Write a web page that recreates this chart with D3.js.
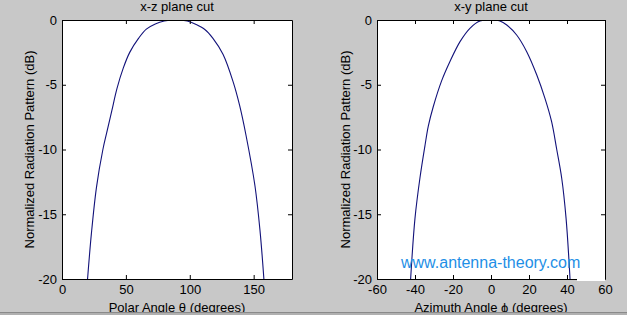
<!DOCTYPE html>
<html>
<head>
<meta charset="utf-8">
<script src="https://cdn.jsdelivr.net/npm/d3@7"></script>
<style>
  body { margin: 0; background: #c8c8c8; }
  text { font-family: "Liberation Sans", Arial, sans-serif; fill: #000; }
</style>
</head>
<body>
<div id="chart"></div>
<script>
// x-z cut: polar angle theta (deg) vs normalized pattern (dB)
const XZ_THETA = [20, 23, 27, 32, 35, 39, 43, 48, 53, 60, 66, 73, 80, 89, 98, 105, 112, 118, 126, 134, 139, 144, 151, 155, 158];
const XZ_DB    = [-20, -16.5, -12.9, -10.0, -8.7, -7.0, -5.3, -3.7, -2.5, -1.4, -0.7, -0.3, -0.08, 0, -0.08, -0.35, -0.75, -1.4, -2.65, -4.8, -6.6, -8.9, -12.8, -16.3, -20];

// x-y cut: azimuth angle phi (deg) vs normalized pattern (dB)
const XY_PHI = [-42.3, -40, -37.4, -34.7, -33, -30.4, -26, -21.6, -16.3, -11.1, -5.8, -0.5, 4.7, 8.3, 13.5, 18.8, 24.1, 28.4, 31.9, 34.6, 37.2, 39.5, 41.6];
const XY_DB  = [-20, -15.3, -12.2, -9.65, -8.2, -6.7, -4.7, -3.2, -1.67, -0.64, -0.08, 0, -0.08, -0.39, -1.16, -2.45, -4.25, -6.05, -7.85, -10.0, -12.2, -15.3, -20];

const XZ_XTICKS = [0, 50, 100, 150];
const XY_XTICKS = [-60, -40, -20, 0, 20, 40, 60];
const Y_TICKS = [0, -5, -10, -15, -20];

const TITLES = ["x-z plane cut", "x-y plane cut"];
const XLABELS = ["Polar Angle \u03B8 (degrees)", "Azimuth Angle \u03D5 (degrees)"];
const YLABEL = "Normalized Radiation Pattern (dB)";
const WATERMARK = "www.antenna-theory.com";

var width = 627,
    height = 315;

var svg = d3.select("#chart").append("svg")
  .attr("width", width)
  .attr("height", height);

svg.append("rect")
  .attr("width", width)
  .attr("height", height)
  .attr("fill", "#c8c8c8");

var panels = [
  {left: 62, right: 292, xDomain: [0, 180], xTicks: XZ_XTICKS, xs: XZ_THETA, ys: XZ_DB, title: TITLES[0], xlabel: XLABELS[0], ylabelX: 34},
  {left: 377, right: 605, xDomain: [-60, 60], xTicks: XY_XTICKS, xs: XY_PHI, ys: XY_DB, title: TITLES[1], xlabel: XLABELS[1], ylabelX: 350}
];
var plotTop = 20, plotBottom = 279, tickLen = 4;
var fmt = d => String(d); // plain hyphen minus like the reference

panels.forEach(function(p, k) {
  var x = d3.scaleLinear().domain(p.xDomain).range([p.left, p.right]);
  var y = d3.scaleLinear().domain([-20, 0]).range([plotBottom, plotTop]);
  var g = svg.append("g");

  // white plot area
  g.append("rect")
    .attr("x", p.left).attr("y", plotTop)
    .attr("width", p.right - p.left).attr("height", plotBottom - plotTop)
    .attr("fill", "#fff");

  g.append("clipPath").attr("id", "clip" + k)
    .append("rect")
    .attr("x", p.left).attr("y", plotTop)
    .attr("width", p.right - p.left).attr("height", plotBottom - plotTop);

  // curve
  var pts = p.xs.map((d, i) => [d, p.ys[i]]);
  g.append("path")
    .datum(pts)
    .attr("clip-path", "url(#clip" + k + ")")
    .attr("fill", "none")
    .attr("stroke", "#12127a")
    .attr("stroke-width", 1.1)
    .attr("d", d3.line()
      .x(d => x(d[0]))
      .y(d => y(d[1]))
      .curve(d3.curveCatmullRom.alpha(0.5)));

  // axes: ticks inside on all four sides, labels on left and bottom
  var xb = g.append("g").attr("transform", "translate(0," + plotBottom + ")")
    .call(d3.axisBottom(x).tickValues(p.xTicks).tickFormat(fmt).tickSizeInner(-tickLen).tickSizeOuter(0));
  var xt = g.append("g").attr("transform", "translate(0," + plotTop + ")")
    .call(d3.axisTop(x).tickValues(p.xTicks).tickSizeInner(-tickLen).tickSizeOuter(0).tickFormat(""));
  var yl = g.append("g").attr("transform", "translate(" + p.left + ",0)")
    .call(d3.axisLeft(y).tickValues(Y_TICKS).tickFormat(fmt).tickSizeInner(-tickLen).tickSizeOuter(0));
  var yr = g.append("g").attr("transform", "translate(" + p.right + ",0)")
    .call(d3.axisRight(y).tickValues(Y_TICKS).tickSizeInner(-tickLen).tickSizeOuter(0).tickFormat(""));

  [xb, xt, yl, yr].forEach(function(a) {
    a.select(".domain").attr("stroke", "#000");
    a.selectAll(".tick line").attr("stroke", "#000");
    a.selectAll("text")
      .attr("font-family", "Liberation Sans, Arial, sans-serif")
      .attr("font-size", 13)
      .attr("fill", "#000");
  });
  // labels measured from the axis line, not the (inward) tick end
  xb.selectAll("text").attr("y", 6).attr("dy", "0.71em");
  yl.selectAll("text").attr("x", -5);

  // title
  g.append("text")
    .attr("x", (p.left + p.right) / 2)
    .attr("y", 11)
    .attr("text-anchor", "middle")
    .attr("font-size", 13)
    .text(p.title);

  // x label
  g.append("text")
    .attr("x", (p.left + p.right) / 2)
    .attr("y", 312)
    .attr("text-anchor", "middle")
    .attr("font-size", 13)
    .text(p.xlabel);

  // y label
  g.append("text")
    .attr("transform", "translate(" + p.ylabelX + "," + (plotTop + plotBottom) / 2 + ") rotate(-90)")
    .attr("text-anchor", "middle")
    .attr("font-size", 13)
    .text(YLABEL);
});

// watermark
svg.append("rect")
  .attr("x", 577).attr("y", 278)
  .attr("width", 28).attr("height", 3)
  .attr("fill", "#fff");
svg.append("text")
  .attr("x", 401)
  .attr("y", 268)
  .attr("font-size", 16)
  .style("fill", "#1e8fe6")
  .text(WATERMARK);

// bottom window edge
svg.append("rect").attr("x", 0).attr("y", 312).attr("width", width).attr("height", 1).attr("fill", "#8a8a8a");
svg.append("rect").attr("x", 0).attr("y", 313).attr("width", width).attr("height", 2).attr("fill", "#b0b0b0");
</script>
</body>
</html>
